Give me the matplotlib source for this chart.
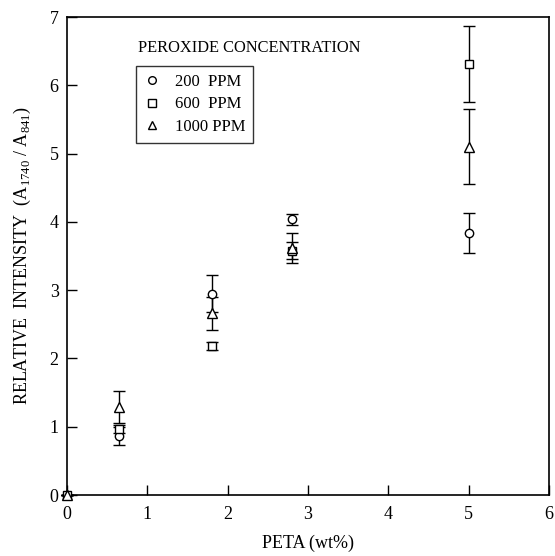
import matplotlib.pyplot as plt
from matplotlib.lines import Line2D

plt.rcParams["font.family"] = ["Liberation Serif", "DejaVu Serif"]
plt.rcParams["mathtext.fontset"] = "custom"
plt.rcParams["mathtext.rm"] = "Liberation Serif"

# PETA content (wt%)
peta = [0, 0.65, 1.8, 2.8, 5.0]

# relative intensity and error per peroxide concentration
ppm200 = [0, 0.86, 2.95, 4.04, 3.84]
ppm200_err = [0, 0.13, 0.27, 0.08, 0.29]
ppm600 = [0, 0.97, 2.18, 3.58, 6.31]
ppm600_err = [0, 0.06, 0.06, 0.12, 0.56]
ppm1000 = [0, 1.29, 2.66, 3.62, 5.10]
ppm1000_err = [0, 0.23, 0.24, 0.22, 0.55]

labels = ["200  PPM", "600  PPM", "1000 PPM"]
markers = ["o", "s", "^"]

fig = plt.figure(figsize=(5.55, 5.56), dpi=100)
ax = fig.add_axes([0.1207, 0.1097, 0.8685, 0.8597])

series = [(ppm200, ppm200_err), (ppm600, ppm600_err), (ppm1000, ppm1000_err)]
for (vals, errs), m in zip(series, markers):
    ax.errorbar(peta, vals, yerr=errs, fmt=m, ms=6 if m != "^" else 7,
                mfc="white", mec="black", mew=1.0, ecolor="black",
                elinewidth=1.0, capsize=4, capthick=1.0, clip_on=False, zorder=3)

ax.set_xlim(0, 6)
ax.set_ylim(0, 7)
ax.set_xticks(range(0, 7))
ax.set_yticks(range(0, 8))
ax.tick_params(direction="in", length=7, width=1, labelsize=13, top=False, right=False)
ax.tick_params(axis="x", pad=8)
ax.tick_params(axis="y", pad=6)
for s in ax.spines.values():
    s.set_linewidth(1.2)

ax.set_xlabel("PETA (wt%)", fontsize=13, labelpad=8)
ax.set_ylabel(r"RELATIVE  INTENSITY  (A$_{1740}$ / A$_{841}$)", fontsize=13, labelpad=12)

ax.text(0.147, 0.935, "PEROXIDE CONCENTRATION", transform=ax.transAxes,
        fontsize=11.8, va="center", ha="left")

handles = [Line2D([], [], ls="none", marker=m, ms=5.5, mfc="white", mec="black", mew=1.0)
           for m in markers]
leg = ax.legend(handles, labels, loc="upper left", bbox_to_anchor=(0.143, 0.897),
                fontsize=12, frameon=True, fancybox=False, edgecolor="black",
                handlelength=1.0, handletextpad=0.9, labelspacing=0.4,
                borderpad=0.45, borderaxespad=0)
leg.get_frame().set_linewidth(1.0)

fig.savefig("out.png", dpi=100)
